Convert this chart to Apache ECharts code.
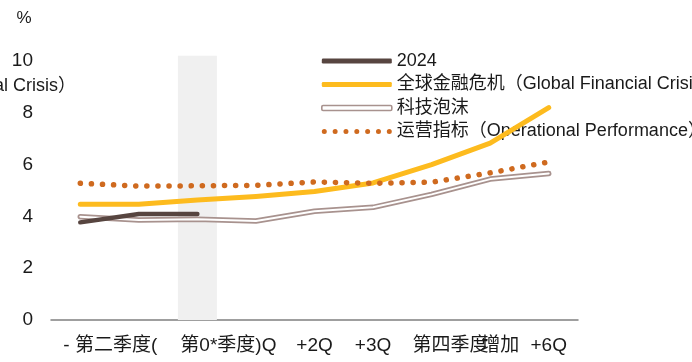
<!DOCTYPE html>
<html>
<head>
<meta charset="utf-8">
<script src="https://cdn.jsdelivr.net/npm/echarts@6/dist/echarts.min.js"></script>
<style>html,body{margin:0;padding:0;background:#fff}#c{width:692px;height:362px}</style>
</head>
<body>
<div id="c"></div>
<script>
// ---- data ----
const categories = ['-2Q', '-1Q', '0Q', '+1Q', '+2Q', '+3Q', '+4Q', '+5Q', '+6Q'];
const tickLabels = ['- 第二季度(', '', '第0*季度)Q', '', '+2Q', '+3Q', '第四季度', '增加', '+6Q'];
const yTicks = [0, 2, 4, 6, 8, 10];
const series2024 = [3.77, 4.09, 4.09, null, null, null, null, null, null];
const seriesGFC = [4.47, 4.47, 4.63, 4.77, 4.96, 5.29, 6.0, 6.83, 8.2];
const seriesTech = [3.99, 3.86, 3.89, 3.82, 4.2, 4.35, 4.85, 5.44, 5.66];
const seriesOps = [5.28, 5.17, 5.18, 5.2, 5.33, 5.28, 5.32, 5.68, 6.1];
const shadedCategory = '0Q';
const shadedTop = 10.2;
const names = ['2024', '全球金融危机（Global Financial Crisis）', '科技泡沫', '运营指标（Operational Performance）'];

// ---- styles ----
const FONT = "'Liberation Sans', 'Noto Sans CJK SC', sans-serif";
const C2024 = '#574540', CGFC = '#fdbb1e', CTECH = '#a8928e', COPS = '#cf6a1f';
const labelShift = {0: 60, 2: 62, 6: 38, 7: 20};

function dotsPath() {
  let p = 'path://';
  for (let i = 0; i < 7; i++) {
    const cx = 2.5 + i * (65 / 6);
    p += `M${(cx - 2.5).toFixed(2)},2.5a2.5,2.5 0 1,0 5,0a2.5,2.5 0 1,0 -5,0Z`;
  }
  return p;
}

const rich = {};
categories.forEach((c, i) => {
  rich['s' + i] = {fontSize: 19, fontFamily: FONT, color: '#1a1a1a', padding: [0, 0, 0, labelShift[i] || 0]};
});

const chart = echarts.init(document.getElementById('c'), null, {renderer: 'canvas'});
chart.setOption({
  animation: false,
  backgroundColor: '#fff',
  textStyle: {fontFamily: FONT},
  grid: {left: 51, right: 114, top: 61, bottom: 42, containLabel: false, outerBoundsMode: 'none'},
  xAxis: {
    type: 'category',
    data: categories,
    boundaryGap: true,
    axisLine: {lineStyle: {color: '#808080', width: 1.5}},
    axisTick: {show: false},
    axisLabel: {
      interval: 0,
      margin: 16,
      formatter: (v, i) => tickLabels[i] ? `{s${i}|${tickLabels[i]}}` : '',
      rich: rich
    },
    splitLine: {show: false}
  },
  yAxis: {
    type: 'value',
    min: yTicks[0],
    max: yTicks[yTicks.length - 1],
    interval: yTicks[1] - yTicks[0],
    name: '%',
    nameGap: 34,
    nameTextStyle: {fontSize: 17, color: '#1a1a1a', fontFamily: FONT, padding: [0, 54, 0, 0], align: 'center'},
    axisLine: {show: false},
    axisTick: {show: false},
    splitLine: {show: false},
    axisLabel: {fontSize: 19, color: '#1a1a1a', fontFamily: FONT, margin: 18}
  },
  legend: {
    orient: 'vertical',
    left: 316,
    top: 47,
    itemWidth: 70,
    itemHeight: 5,
    itemGap: 5.5,
    textStyle: {fontSize: 18, color: '#1a1a1a', fontFamily: FONT},
    data: [
      {name: names[0], icon: 'roundRect', itemStyle: {color: C2024}},
      {name: names[1], icon: 'roundRect', itemStyle: {color: CGFC}},
      {name: names[2], icon: 'roundRect', itemStyle: {color: '#fff', borderColor: CTECH, borderWidth: 1.6}},
      {name: names[3], icon: dotsPath(), itemStyle: {color: COPS}}
    ]
  },
  graphic: [{
    type: 'text', right: 692 - 76, top: 77,
    style: {text: 'al Crisis）', fontSize: 18, fontFamily: FONT, fill: '#1a1a1a'}
  }],
  series: [
    {
      name: 'band', type: 'bar', barWidth: 39, clip: false, silent: true, z: 0,
      itemStyle: {color: '#f0f0f0'},
      data: categories.map(c => c === shadedCategory ? shadedTop : null)
    },
    {
      name: names[2], type: 'line', symbol: 'none', data: seriesTech, z: 2,
      lineStyle: {color: CTECH, width: 5.5, cap: 'round', join: 'round'},
      itemStyle: {color: CTECH}
    },
    {
      name: 'techInner', type: 'line', symbol: 'none', data: seriesTech, z: 3,
      lineStyle: {color: '#ffffff', width: 2, cap: 'round', join: 'round'}
    },
    {
      name: names[0], type: 'line', symbol: 'none', data: series2024, z: 4,
      lineStyle: {color: C2024, width: 4.5, cap: 'round'},
      itemStyle: {color: C2024}
    },
    {
      name: names[1], type: 'line', symbol: 'none', data: seriesGFC, z: 5,
      lineStyle: {color: CGFC, width: 5, cap: 'round', join: 'round'},
      itemStyle: {color: CGFC}
    },
    {
      name: names[3], type: 'line', symbol: 'none', data: seriesOps, z: 6,
      lineStyle: {color: COPS, width: 5.5, type: [0.1, 11], cap: 'round'},
      itemStyle: {color: COPS}
    }
  ]
});
</script>
</body>
</html>
